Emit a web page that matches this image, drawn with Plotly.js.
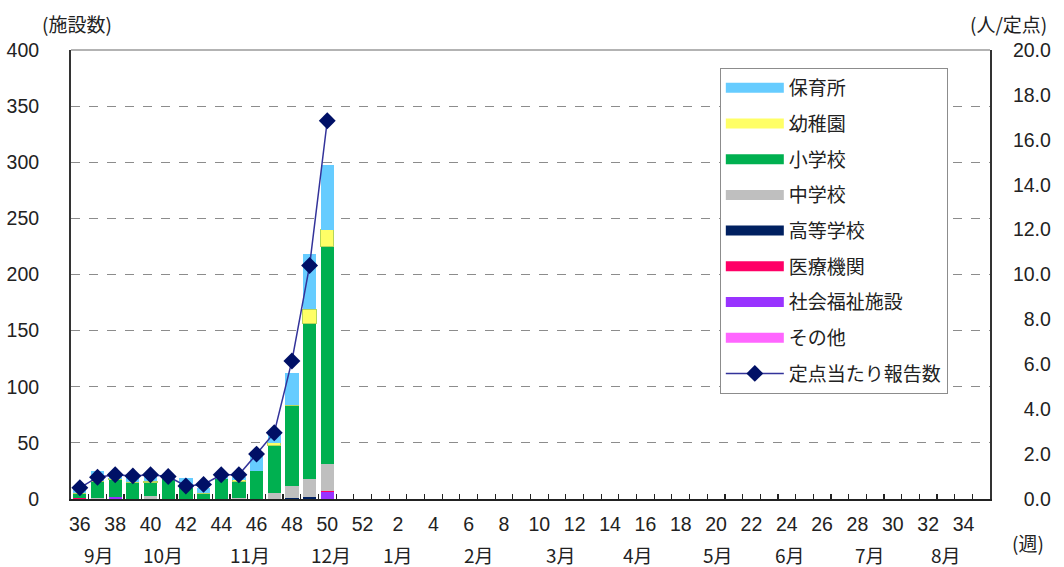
<!DOCTYPE html>
<html>
<head>
<meta charset="utf-8">
<script src="https://cdn.plot.ly/plotly-3.0.1.min.js"></script>
<style>html,body{margin:0;padding:0;background:#fff;}#chart{width:1064px;height:567px;}</style>
</head>
<body>
<div id="chart"></div>
<script>
// Week categories (Sep–Aug season)
const weeks = ["36","37","38","39","40","41","42","43","44","45","46","47","48","49","50","51","52",
  "1","2","3","4","5","6","7","8","9","10","11","12","13","14","15","16","17","18","19","20",
  "21","22","23","24","25","26","27","28","29","30","31","32","33","34","35"];
// Weeks reported so far (36..50)
const reportedWeeks = ["36","37","38","39","40","41","42","43","44","45","46","47","48","49","50"];

const hoikusho   = [5, 9, 5, 5, 4, 2, 9, 5, 2, 3, 15, 10, 28, 49, 58];   // 保育所
const youchien   = [0, 0, 1, 0, 1, 0, 0, 0, 0, 1, 0, 2, 1, 13, 15];      // 幼稚園
const shogakko   = [4, 15, 15, 15, 12, 18, 10, 5, 18, 15, 25, 43, 71, 138, 194]; // 小学校
const chugakko   = [0, 1, 0, 0, 3, 0, 0, 0, 0, 1, 0, 5, 11, 16, 24];     // 中学校
const kotogakko  = [0, 0, 0, 0, 0, 0, 0, 0, 0, 0, 0, 0, 1, 2, 0];        // 高等学校
const iryo       = [1, 0, 0, 0, 0, 0, 0, 0, 0, 0, 0, 0, 0, 0, 1];        // 医療機関
const fukushi    = [0, 0, 2, 0, 0, 0, 0, 0, 0, 0, 0, 0, 0, 0, 6];        // 社会福祉施設
const sonota     = [0, 0, 0, 0, 0, 0, 0, 0, 0, 0, 0, 0, 0, 0, 0];        // その他
const teiten     = [0.5, 0.97, 1.08, 1.03, 1.08, 1.0, 0.58, 0.65, 1.08, 1.08, 2.0, 2.95, 6.15, 10.4, 16.85]; // 定点当たり報告数

// x tick labels: every other week
const weekTickText = weeks.map((w, i) => (i % 2 === 0 ? w : ""));
// Month labels and their position (category index along the week axis)
const monthLabels = ["9月","10月","11月","12月","1月","2月","3月","4月","5月","6月","7月","8月"];
const monthPos    = [1.1, 4.7, 9.6, 14.2, 18.0, 22.6, 27.2, 31.6, 36.1, 40.2, 44.7, 49.0];

const y2Vals = [0,2,4,6,8,10,12,14,16,18,20];
const y2Text = y2Vals.map(v => (v < 10 ? "\u2007" : "") + v.toFixed(1));

const JP = "'Noto Sans CJK JP', 'Liberation Sans', sans-serif";
const NUM = "'Liberation Sans', Arial, sans-serif";

const series = [
  // name, values, colour (bottom of stack first)
  ["その他", sonota, "#ff66ff"],
  ["社会福祉施設", fukushi, "#9933ff"],
  ["医療機関", iryo, "#ff0066"],
  ["高等学校", kotogakko, "#002060"],
  ["中学校", chugakko, "#bfbfbf"],
  ["小学校", shogakko, "#00b050"],
  ["幼稚園", youchien, "#ffff66"],
  ["保育所", hoikusho, "#66ccff"]
];

const data = [];
series.forEach(([name, vals, color]) => {
  data.push({
    type: "bar", name: name, x: reportedWeeks, y: vals,
    marker: {color: color, line: {width: name === "幼稚園" ? 1 : 0, color: "#b5d65a"}},
    showlegend: false, hoverinfo: "skip"
  });
});
// legend entries (wide colour swatches)
series.forEach(([name, vals, color], i) => {
  data.push({
    type: "scatter", mode: "lines", name: name, x: [null], y: [null],
    line: {color: color, width: 11},
    legendrank: 8 - i, legendgroup: name, showlegend: true, hoverinfo: "skip"
  });
});
data.push({
  type: "scatter", mode: "lines+markers", name: "定点当たり報告数",
  x: reportedWeeks, y: teiten, yaxis: "y2",
  line: {color: "#33339a", width: 1.5},
  marker: {symbol: "diamond", size: 13, color: "#001066"},
  legendrank: 9, legendgroup: "teiten", hoverinfo: "skip"
});

const annotations = monthLabels.map((m, i) => ({
  text: m, x: monthPos[i], xref: "x", y: 0, yref: "paper",
  yanchor: "top", yshift: -40, showarrow: false,
  font: {family: JP, size: 19, color: "#222"}
}));
annotations.push(
  {text: "(施設数)", xref: "paper", yref: "paper", x: 0.007, y: 1.0, xanchor: "center", yanchor: "bottom", yshift: 11, showarrow: false, font: {family: JP, size: 19, color: "#222"}},
  {text: "(人/定点)", xref: "paper", yref: "paper", x: 1.02, y: 1.0, xanchor: "center", yanchor: "bottom", yshift: 11, showarrow: false, font: {family: JP, size: 19, color: "#222"}},
  {text: "(週)", xref: "paper", yref: "paper", x: 1.0, y: 0, xanchor: "center", yanchor: "top", xshift: 38, yshift: -28, showarrow: false, font: {family: JP, size: 19, color: "#222"}}
);

const layout = {
  width: 1064, height: 567,
  margin: {l: 71, r: 74, t: 50, b: 68},
  paper_bgcolor: "#fff", plot_bgcolor: "#fff",
  barmode: "stack", bargap: 0.25,
  showlegend: true,
  font: {family: NUM, size: 19.5, color: "#222"},
  xaxis: {
    type: "category", categoryorder: "array", categoryarray: weeks,
    range: [-0.5, weeks.length - 0.5],
    tickmode: "array", tickvals: weeks, ticktext: weekTickText, tickangle: 0,
    tickson: "boundaries", ticks: "inside", ticklen: 5, tickcolor: "#222", tickwidth: 1.2,
    showline: true, linecolor: "#222", linewidth: 2,
    showgrid: false, zeroline: false,
    tickfont: {family: NUM, size: 19.5, color: "#222"},
    ticklabelstandoff: 7, fixedrange: true
  },
  yaxis: {
    range: [0, 400], tickmode: "linear", tick0: 0, dtick: 50,
    showline: true, linecolor: "#333", linewidth: 2,
    showgrid: true, gridcolor: "#8c8c8c", griddash: "dash", gridwidth: 1,
    zeroline: false, ticks: "",
    tickfont: {family: NUM, size: 19.5, color: "#222"},
    ticklabelstandoff: 26
  },
  yaxis2: {
    overlaying: "y", side: "right", range: [0, 20],
    tickmode: "array", tickvals: y2Vals, ticktext: y2Text,
    showline: true, linecolor: "#333", linewidth: 2,
    showgrid: false, zeroline: false, ticks: "",
    tickfont: {family: NUM, size: 19.5, color: "#222"},
    ticklabelstandoff: 17
  },
  legend: {
    x: 0.706, y: 0.96, xanchor: "left", yanchor: "top",
    bgcolor: "#fff", bordercolor: "#8c8c8c", borderwidth: 1,
    font: {family: JP, size: 19, color: "#222"},
    tracegroupgap: 8, itemwidth: 58
  },
  shapes: [
    {type: "line", xref: "paper", yref: "paper", x0: 0, x1: 1, y0: 1, y1: 1, line: {color: "#9a9a9a", width: 1.5}}
  ],
  annotations: annotations
};

Plotly.newPlot("chart", data, layout, {displayModeBar: false, staticPlot: true});
</script>
</body>
</html>
